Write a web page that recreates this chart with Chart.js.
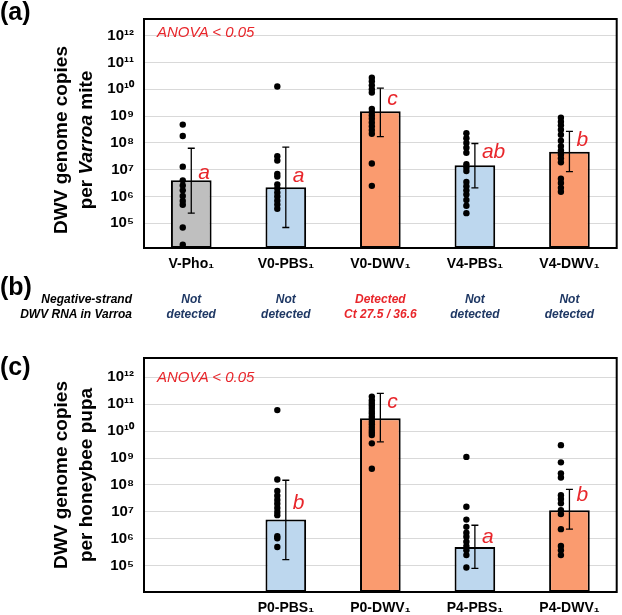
<!DOCTYPE html>
<html>
<head>
<meta charset="utf-8">
<script src="https://cdn.jsdelivr.net/npm/chart.js@4.4.0/dist/chart.umd.min.js"></script>
<style>
  body { margin: 0; background: #fff; font-family: Arial, "Liberation Sans", sans-serif; }
  #page { position: relative; width: 622px; height: 615px; overflow: hidden; }
  canvas { position: absolute; left: 0; }
  .panel { position: absolute; left: 0; font-weight: bold; font-size: 25px; }
  .ytitle { position: absolute; transform: translate(-50%, -50%) rotate(-90deg); white-space: nowrap;
            text-align: center; font-weight: bold; font-size: 19px; line-height: 25px; }
  .anova { position: absolute; font-style: italic; font-size: 15px; color: #e8262b; }
  .neg { position: absolute; font-style: italic; font-weight: bold; font-size: 12px; line-height: 15px; }
</style>
</head>
<body>
<div id="page">
  <canvas id="chartA" width="622" height="280" style="top:0"></canvas>
  <canvas id="chartC" width="622" height="285" style="top:330px"></canvas>

  <div class="panel" style="top:-3px">(a)</div>
  <div class="panel" style="top:272px">(b)</div>
  <div class="panel" style="top:352px">(c)</div>

  <div class="ytitle" style="left:73px; top:140px">DWV genome copies<br>per <i>Varroa</i> mite</div>
  <div class="ytitle" style="left:73px; top:475px">DWV genome copies<br>per honeybee pupa</div>

  <div class="anova" style="left:157px; top:23px">ANOVA &lt; 0.05</div>
  <div class="anova" style="left:157px; top:368px">ANOVA &lt; 0.05</div>

  <div class="neg" style="right:490px; top:292px; text-align:right">Negative-strand<br>DWV RNA in Varroa</div>
  <div id="rowB"></div>
</div>

<script>
const RED = '#e8262b';
const NAVY = '#1f3864';
const GRAY = '#bfbfbf', BLUE = '#bdd7ee', ORANGE = '#fa9b6f';

// (a) Varroa mites
const catsA = ['V-Pho₁', 'V0-PBS₁', 'V0-DWV₁', 'V4-PBS₁', 'V4-DWV₁'];
const meansA = [4.0e6, 2.2e6, 1.5e9, 1.45e7, 4.7e7];
const errLowA = [2.4e5, 7e4, 1.7e8, 2.1e6, 8.5e6];
const errHighA = [6.3e7, 7e7, 1.1e10, 9.5e7, 2.7e8];
const dotsA = [
  [4.8e8, 1.8e8, 1.3e7, 4e6, 2.6e6, 1.7e6, 1.05e6, 6.8e5, 4.9e5, 7e4, 1.6e4],
  [1.26e10, 3.2e7, 2.2e7, 7e6, 5.6e6, 2.8e6, 2e6, 1.4e6, 1e6, 7e5, 5e5, 3.5e5],
  [2.7e10, 2e10, 1.4e10, 1e10, 7.6e9, 1.86e9, 1.4e9, 1.05e9, 7.9e8, 5.8e8, 4.2e8, 3e8, 2.2e8, 1.7e7, 2.5e6],
  [2.3e8, 1.5e8, 1e8, 6.6e7, 4.3e7, 1.6e7, 1.2e7, 9e6, 3.5e6, 2.4e6, 1.7e6, 1.2e6, 7.4e5, 4.5e5, 2.4e5],
  [8.7e8, 6.2e8, 4.5e8, 3.1e8, 2e8, 1.2e8, 7.6e7, 5.2e7, 3.7e7, 2.7e7, 1.9e7, 4.6e6, 3.2e6, 2.1e6, 1.5e6]
];
const colorsA = [GRAY, BLUE, ORANGE, BLUE, ORANGE];
const lettersA = ['a', 'a', 'c', 'ab', 'b'];
const letterYA = [7.4e6, 5.6e6, 4.1e9, 4.7e7, 1.26e8];

// (b) negative-strand detection
const negStatus = [['Not', 'detected'], ['Not', 'detected'], ['Detected', 'Ct 27.5 / 36.6'], ['Not', 'detected'], ['Not', 'detected']];
const negDetected = [false, false, true, false, false];

// (c) honeybee pupae
const catsC = ['', 'P0-PBS₁', 'P0-DWV₁', 'P4-PBS₁', 'P4-DWV₁'];
const meansC = [null, 5.2e6, 3e10, 5e5, 1.15e7];
const errLowC = [null, 1.7e5, 4e9, 8e4, 2.3e6];
const errHighC = [null, 1.5e8, 2.5e11, 3.2e6, 6.9e7];
const dotsC = [
  [],
  [6e10, 1.6e8, 6e7, 4e7, 2.8e7, 2e7, 1.4e7, 1e7, 7.6e6, 1.26e6, 1.05e6, 5e5],
  [1.9e11, 1.4e11, 1.1e11, 8.9e10, 7.1e10, 5.6e10, 4.5e10, 3.5e10, 2.8e10, 2.2e10, 1.8e10, 1.4e10, 1.1e10, 8.9e9, 7.1e9, 3.5e9, 4e8],
  [1.1e9, 1.55e7, 5.2e6, 2.8e6, 1.7e6, 1.2e6, 7.8e5, 5.4e5, 3.8e5, 2.5e5, 8.7e4],
  [3e9, 6.9e8, 2.7e8, 1.9e8, 4.2e7, 3e7, 2.1e7, 1.15e7, 8.3e6, 2.3e6, 5.5e5, 3.8e5, 2.5e5]
];
const colorsC = [BLUE, BLUE, ORANGE, BLUE, ORANGE];
const lettersC = [null, 'b', 'c', 'a', 'b'];
const letterYC = [null, 2.1e7, 1.2e11, 1.2e6, 4.2e7];

const yExps = [5, 6, 7, 8, 9, 10, 11, 12];
const supDigits = '⁰¹²³⁴⁵⁶⁷⁸⁹';
function sup(n) {
  return String(n).split('').map(d => supDigits[d]).join('');
}

// frame round the plot area
const boxPlugin = {
  id: 'box',
  afterDatasetsDraw(chart) {
    const { ctx, chartArea: a } = chart;
    ctx.save();
    ctx.strokeStyle = '#000';
    ctx.lineWidth = 2;
    ctx.strokeRect(a.left, a.top, a.right - a.left, a.bottom - a.top);
    ctx.restore();
  }
};

// significance letters
const letterPlugin = {
  id: 'letters',
  afterDatasetsDraw(chart, args, opts) {
    const xs = chart.scales.xd, ys = chart.scales.y, ctx = chart.ctx;
    ctx.save();
    ctx.font = opts.font;
    ctx.fillStyle = RED;
    ctx.textAlign = 'left';
    ctx.textBaseline = 'middle';
    opts.labels.forEach((t, i) => {
      if (!t) return;
      ctx.fillText(t, xs.getPixelForValue(i) + opts.dx, ys.getPixelForValue(opts.ys[i]));
    });
    ctx.restore();
  }
};

function drawPanel(id, cats, means, lo, hi, dots, colors, letters, letterY, yMin, yMax, pad, xAxisH) {
  const dotPts = [];
  dots.forEach((arr, i) => arr.forEach(v => dotPts.push({ x: i - 0.09, y: v })));
  const errPts = [];
  means.forEach((m, i) => {
    if (m == null) return;
    errPts.push({ x: i, y: lo[i] }, { x: i, y: hi[i] }, { x: i, y: null });
  });

  return new Chart(document.getElementById(id), {
    type: 'bar',
    data: {
      labels: cats,
      datasets: [
        { type: 'bar', data: means, backgroundColor: colors, borderColor: '#000', borderWidth: 2,
          borderSkipped: false, grouped: false, barPercentage: 0.43, categoryPercentage: 1, order: 3 },
        { type: 'line', xAxisID: 'xd', data: errPts, borderColor: '#000', borderWidth: 1.3,
          pointStyle: 'line', pointRadius: 3.5, pointBorderWidth: 1.3, pointBorderColor: '#000',
          spanGaps: false, order: 2 },
        { type: 'scatter', xAxisID: 'xd', data: dotPts, backgroundColor: '#000', pointRadius: 3.2,
          borderWidth: 0, order: 1 }
      ]
    },
    options: {
      responsive: false,
      animation: false,
      events: [],
      devicePixelRatio: 1,
      layout: { padding: pad },
      plugins: {
        legend: { display: false },
        tooltip: { enabled: false },
        letters: { labels: letters, ys: letterY, dx: 7, font: 'italic 21px Arial' }
      },
      scales: {
        x: {
          type: 'category',
          grid: { display: false, drawTicks: false },
          border: { display: false },
          ticks: { color: '#000', font: { family: 'Arial', weight: 'bold', size: 14 }, padding: 8, maxRotation: 0 },
          afterFit(s) { s.height = xAxisH; }
        },
        xd: { type: 'linear', display: false, offset: false, min: -0.5, max: 4.5 },
        y: {
          type: 'logarithmic',
          bounds: 'data',
          min: yMin,
          max: yMax,
          grid: { color: '#d9d9d9', drawTicks: false },
          border: { display: false },
          ticks: {
            color: '#000',
            font: { family: 'Arial', weight: 'bold', size: 15 },
            padding: 10,
            callback: v => '10' + sup(Math.round(Math.log10(v)))
          },
          afterBuildTicks(s) { s.ticks = yExps.map(e => ({ value: Math.pow(10, e) })); },
          afterFit(s) { s.width = 144; }
        }
      }
    },
    plugins: [boxPlugin, letterPlugin]
  });
}

const chartA = drawPanel('chartA', catsA, meansA, errLowA, errHighA, dotsA, colorsA, lettersA, letterYA,
  Math.pow(10, 4.08), Math.pow(10, 12.62), { top: 15, right: 4, left: 0, bottom: 0 }, 32);
drawPanel('chartC', catsC, meansC, errLowC, errHighC, dotsC, colorsC, lettersC, letterYC,
  Math.pow(10, 4.03), Math.pow(10, 12.71), { top: 28, right: 5, left: 0, bottom: 0 }, 23);

// (b) row of detection results, centred under the (a) categories
const rowB = document.getElementById('rowB');
negStatus.forEach((lines, i) => {
  const cx = chartA.scales.x.getPixelForValue(i);
  const d = document.createElement('div');
  d.className = 'neg';
  d.style.left = (cx - 50) + 'px';
  d.style.width = '100px';
  d.style.top = '292px';
  d.style.textAlign = 'center';
  d.style.color = negDetected[i] ? RED : NAVY;
  d.innerHTML = lines.join('<br>');
  rowB.appendChild(d);
});
</script>
</body>
</html>
